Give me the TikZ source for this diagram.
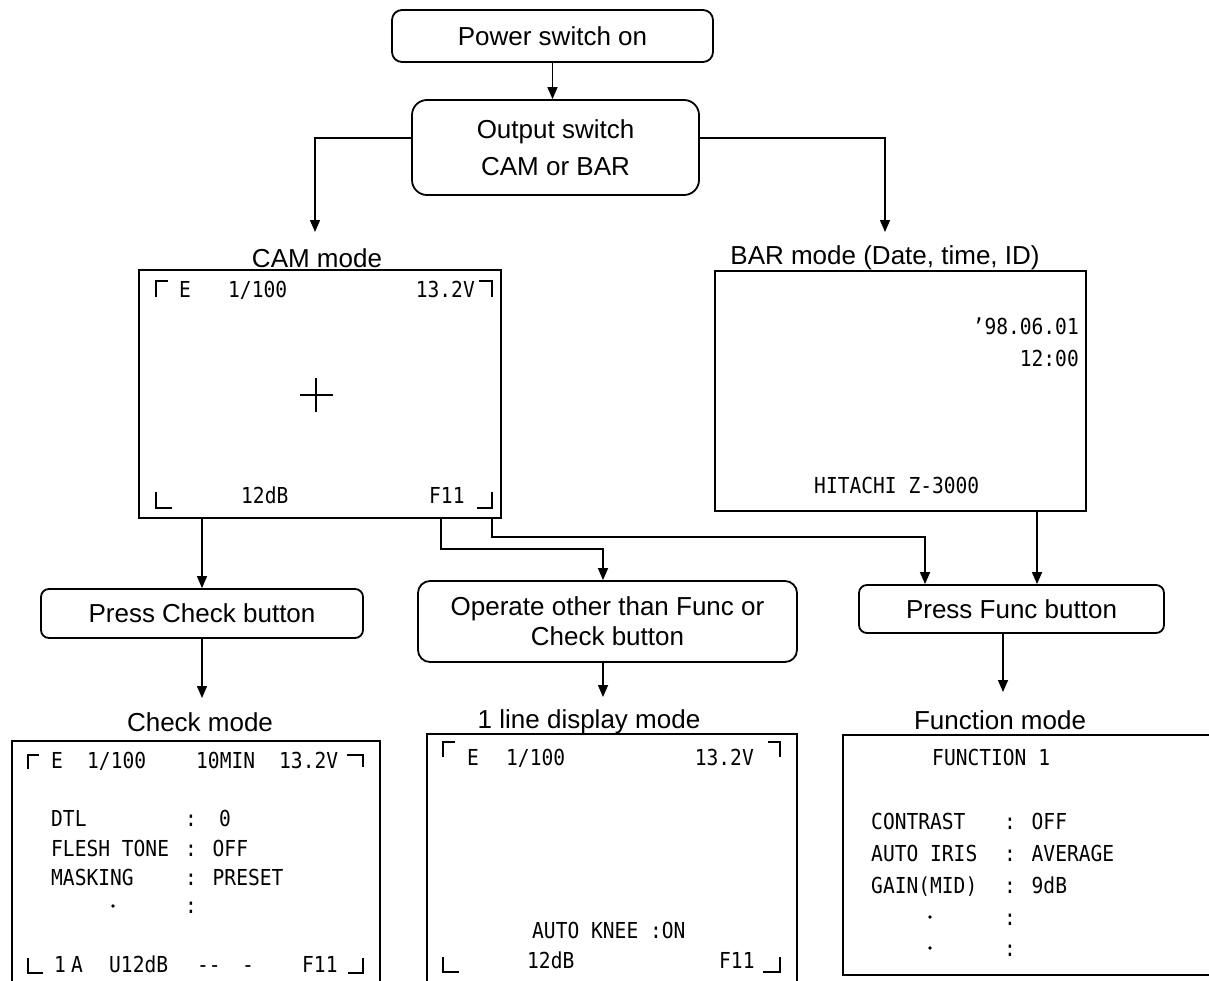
\documentclass[tikz,border=0pt]{standalone}
\usepackage{fontspec}
\setmainfont{Liberation Sans}
\newfontfamily\scr{DejaVu Sans Mono}[FakeStretch=0.89]
\usetikzlibrary{arrows.meta}
\begin{document}
\begin{tikzpicture}[x=1pt,y=-1pt,
  rbox/.style={draw,line width=1.8pt,rounded corners=#1,inner sep=0pt,align=center,
    font=\fontsize{26}{37}\selectfont},
  screen/.style={draw,line width=2.2pt,inner sep=0pt},
  lbl/.style={inner sep=0pt,font=\fontsize{26}{30}\selectfont},
  st/.style={inner sep=0pt,anchor=base west,font=\scr\fontsize{22}{24}\selectfont},
  ste/.style={st,anchor=base east},
  brk/.style={line width=2pt},
  arr/.style={line width=1.5pt,-{Triangle[length=12pt,width=10pt]}}]
\useasboundingbox (0,0) rectangle (1209,980);
\clip (0,0) rectangle (1209,980);
% flow boxes
\node[rbox=10pt,minimum width=321pt,minimum height=52pt] (power) at (552.5,36) {Power switch on};
\node[rbox=15pt,minimum width=287pt,minimum height=95pt] (output) at (555.5,147.5) {Output switch\\CAM or BAR};
\node[rbox=8pt,minimum width=322pt,minimum height=49pt] (pchk) at (202,613.5) {Press Check button};
\node[rbox=12pt,minimum width=379pt,minimum height=81pt,font=\fontsize{26}{30}\selectfont] (oper) at (607.5,621.5) {Operate other than Func or\\Check button};
\node[rbox=8pt,minimum width=305pt,minimum height=48pt] (pfun) at (1011.5,609) {Press Func button};
% mode labels
\node[lbl] (camlbl) at (317,258) {CAM mode};
\node[lbl] (barlbl) at (885,258) {BAR mode (Date, time, ID)};
\node[lbl] (chklbl) at (200,722) {Check mode};
\node[lbl] (linelbl) at (589,722) {1 line display mode};
\node[lbl] (funlbl) at (1000,720) {Function mode};
% screens
\node[screen,minimum width=362pt,minimum height=248pt] (cam) at (320,394) {};
\node[screen,minimum width=371pt,minimum height=240pt] (bar) at (900.5,391) {};
\node[screen,minimum width=368pt,minimum height=270pt] (chk) at (196,876) {};
\node[screen,minimum width=370pt,minimum height=276pt] (line) at (612,872) {};
\node[screen,minimum width=380pt,minimum height=240pt] (fun) at (1033,855) {};
% CAM screen
\draw[brk] (156,297) -- (156,281) -- (168,281);
\draw[brk] (479,281) -- (492,281) -- (492,297);
\draw[brk] (156,492) -- (156,508) -- (172,508);
\draw[brk] (477,508) -- (492,508) -- (492,492);
\draw[line width=1.5pt] (300,395) -- (333,395) (316,378) -- (316,412);
\node[st] (c1) at (179,297) {E};
\node[st] (c2) at (228,297) {1/100};
\node[ste] (c3) at (475,297) {13.2V};
\node[st] (c4) at (241,503) {12dB};
\node[st] (c5) at (429,503) {F11};
% BAR screen
\node[ste] (b1) at (1079,334) {\textquoteright98.06.01};
\node[ste] (b2) at (1079,366) {12:00};
\node[st] (b3) at (814,493) {HITACHI Z-3000};
% Check screen
\draw[brk] (28,769) -- (28,755) -- (39,755);
\draw[brk] (347,755) -- (363,755) -- (363,767);
\draw[brk] (28,958) -- (28,973) -- (43,973);
\draw[brk] (348,973) -- (363,973) -- (363,958);
\node[st] (k1) at (51,768) {E};
\node[st] (k2) at (87,768) {1/100};
\node[st] (k3) at (196,768) {10MIN};
\node[st] (k4) at (279,768) {13.2V};
\node[st] (k5) at (51,826) {DTL};
\node[st] (k6) at (185,826) {:};
\node[st] (k7) at (219,826) {0};
\node[st] (k8) at (51,856) {FLESH TONE};
\node[st] (k9) at (185,856) {: OFF};
\node[st] (k10) at (51,885) {MASKING};
\node[st] (k11) at (185,885) {: PRESET};
\fill (113,906) circle (1.8pt);
\node[st] (k12) at (185,913) {:};
\node[st] (k13) at (54,972) {1};
\node[st] (k14) at (71,972) {A};
\node[st] (k15) at (109,972) {U12dB};
\node[st] (k16) at (197,972) {--};
\node[st] (k17) at (242,972) {-};
\node[st] (k18) at (302,972) {F11};
% 1 line screen
\draw[brk] (443,757) -- (443,742) -- (455,742);
\draw[brk] (768,742) -- (780,742) -- (780,757);
\draw[brk] (443,957) -- (443,972) -- (459,972);
\draw[brk] (763,972) -- (780,972) -- (780,957);
\node[st] (l1) at (467,765) {E};
\node[st] (l2) at (506,765) {1/100};
\node[ste] (l3) at (754,765) {13.2V};
\node[st] (l4) at (532,938) {AUTO KNEE :ON};
\node[st] (l5) at (527,968) {12dB};
\node[st] (l6) at (719,968) {F11};
% Function screen
\node[st] (f1) at (932,765) {FUNCTION 1};
\node[st] (f2) at (871,829) {CONTRAST};
\node[st] (f3) at (1004,829) {: OFF};
\node[st] (f4) at (871,861) {AUTO IRIS};
\node[st] (f5) at (1004,861) {: AVERAGE};
\node[st] (f6) at (871,893) {GAIN(MID)};
\node[st] (f7) at (1004,893) {: 9dB};
\fill (930,917) circle (1.8pt);
\node[st] (f8) at (1004,925) {:};
\fill (930,948) circle (1.8pt);
\node[st] (f9) at (1004,956) {:};
% connectors
\coordinate (camIn) at (315,232);
\coordinate (barIn) at (885,232);
\coordinate (chkTip) at (202,698);
\coordinate (lineTip) at (603,697);
\coordinate (funTip) at (1003,692);
\draw[arr] (power.south) -- (power.south |- output.north);
\draw[arr] ([yshift=9.5pt]output.west) -| (camIn);
\draw[arr] ([yshift=9.5pt]output.east) -| (barIn);
\draw[arr] (pchk.north |- cam.south) -- (pchk.north);
\draw[arr] (pchk.south) -- (chkTip);
\draw[arr] ([xshift=121pt]cam.south) -- ++(0,30) -| ([xshift=-4.5pt]oper.north);
\draw[arr] ([xshift=172pt]cam.south) -- ++(0,18) -| ([xshift=-86.5pt]pfun.north);
\draw[arr] ([xshift=136.5pt]bar.south) -- ([xshift=25.5pt]pfun.north);
\draw[arr] ([xshift=-4.5pt]oper.south) -- (lineTip);
\draw[arr] ([xshift=-8.5pt]pfun.south) -- (funTip);
\end{tikzpicture}
\end{document}
